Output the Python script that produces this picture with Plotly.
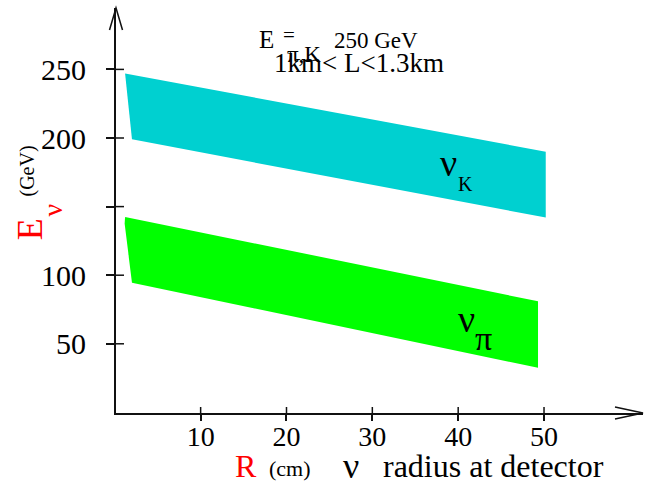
import plotly.graph_objects as go

# ---- data ----
kaon_radius = [1.2, 50.2, 50.2, 2.0]
kaon_energy = [247, 190, 142, 199]
pion_radius = [1.2, 49.3, 49.3, 2.0, 1.15]
pion_energy = [142.5, 81, 32.5, 94.5, 137.5]
r_ticks = [10, 20, 30, 40, 50]
e_ticks = [50, 100, 150, 200, 250]
e_tick_labels = ["50", "100", "", "200", "250"]

W, H = 647, 481
L, R, T, B = 116, 4, 8, 68
PW, PH = W - L - R, H - T - B
SERIF = "Liberation Serif"
INK = "#111111"


def pp(px, py):
    """pixel position -> paper coordinates"""
    return (px - L) / PW, (H - B - py) / PH


fig = go.Figure()
fig.add_trace(go.Scatter(x=kaon_radius, y=kaon_energy, fill="toself",
                         fillcolor="#00D0D0", mode="lines", line=dict(width=0),
                         hoverinfo="skip", showlegend=False))
fig.add_trace(go.Scatter(x=pion_radius, y=pion_energy, fill="toself",
                         fillcolor="#00FF00", mode="lines", line=dict(width=0),
                         hoverinfo="skip", showlegend=False))

shapes = []
# inner halves of the crossing ticks
for v in r_ticks:
    shapes.append(dict(type="line", xref="x", x0=v, x1=v, yref="paper",
                       ysizemode="pixel", yanchor=0, y0=0, y1=6,
                       line=dict(color=INK, width=1.5)))
for v in e_ticks:
    shapes.append(dict(type="line", yref="y", y0=v, y1=v, xref="paper",
                       xsizemode="pixel", xanchor=0, x0=0, x1=8,
                       line=dict(color=INK, width=1.5)))
# arrow heads
shapes.append(dict(type="path", xref="paper", yref="paper", xsizemode="pixel",
                   ysizemode="pixel", xanchor=1, yanchor=0,
                   path="M-28,6L0,0L-28,-6", line=dict(color=INK, width=1.5)))
shapes.append(dict(type="path", xref="paper", yref="paper", xsizemode="pixel",
                   ysizemode="pixel", xanchor=0, yanchor=1,
                   path="M-6.5,-22L0,0L6.5,-22", line=dict(color=INK, width=1.5)))

texts = [
    ("E", 29.7, 229.5, 36, "red", -90),
    ("ν", 51.5, 210, 28, "red", -90),
    ("(GeV)", 26.5, 171, 20, "black", -90),
    ("R", 245.5, 466, 32, "red", 0),
    ("(cm)", 290, 468, 22, "black", 0),
    ("ν", 350.5, 466, 36, "black", 0),
    ("radius at detector", 493, 466, 32, "black", 0),
    ("E", 266.5, 39.2, 25, "black", 0),
    ("=", 289, 35, 21, "black", 0),
    ("π,K", 304, 54, 23, "black", 0),
    ("250 GeV", 375.5, 40, 23, "black", 0),
    ("1km&lt; L&lt;1.3km", 359, 63, 27, "black", 0),
    ("ν", 448, 162.5, 38, "black", 0),
    ("K", 465, 183.5, 20, "black", 0),
    ("ν", 466, 319, 38, "black", 0),
    ("π", 483, 338, 34, "black", 0),
]
annotations = []
for txt, px, py, size, color, ang in texts:
    x, y = pp(px, py)
    annotations.append(dict(text=txt, x=x, y=y, xref="paper", yref="paper",
                            xanchor="center", yanchor="middle", showarrow=False,
                            textangle=ang,
                            font=dict(family=SERIF, size=size, color=color)))

fig.update_layout(
    width=W, height=H,
    margin=dict(l=L, r=R, t=T, b=B),
    paper_bgcolor="white", plot_bgcolor="white",
    xaxis=dict(range=[0.14, 61.53], showline=True, linecolor=INK, linewidth=2,
               ticks="outside", ticklen=6, tickwidth=1.5, tickcolor=INK,
               tickvals=r_ticks, ticklabelstandoff=-9,
               tickfont=dict(family=SERIF, size=28, color="black"),
               showgrid=False, zeroline=False),
    yaxis=dict(range=[-0.44, 294.75], showline=True, linecolor=INK, linewidth=2,
               ticks="outside", ticklen=8, tickwidth=1.5, tickcolor=INK,
               tickvals=e_ticks, ticktext=e_tick_labels, ticklabelstandoff=14,
               tickfont=dict(family=SERIF, size=30, color="black"),
               showgrid=False, zeroline=False),
    shapes=shapes,
    annotations=annotations,
    showlegend=False,
)

fig.write_html("out.html", config={"displayModeBar": False},
               post_script="document.body.style.margin='0px';")
